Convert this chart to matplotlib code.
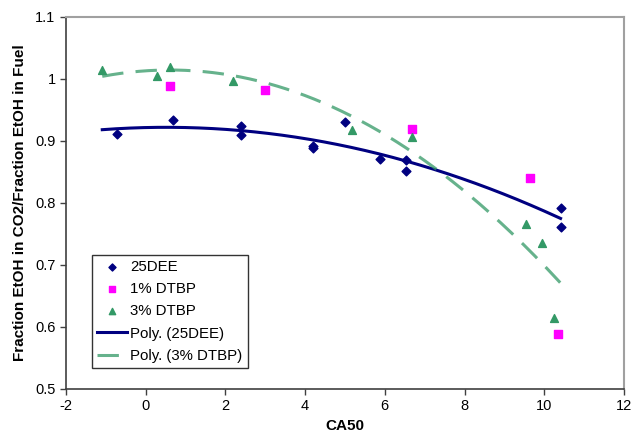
import numpy as np
import matplotlib.pyplot as plt

plt.rcParams['font.family'] = ['Liberation Sans', 'DejaVu Sans']
plt.rcParams['axes.unicode_minus'] = False

# 25DEE
dee_x = [-0.73, 0.68, 2.39, 2.39, 4.2, 4.2, 4.99, 5.88, 6.52, 6.52, 10.41, 10.41]
dee_y = [0.912, 0.934, 0.924, 0.909, 0.892, 0.888, 0.930, 0.871, 0.870, 0.852, 0.792, 0.761]

# 1% DTBP
dtbp1_x = [0.6, 2.99, 6.67, 9.65, 10.35]
dtbp1_y = [0.989, 0.983, 0.920, 0.840, 0.589]

# 3% DTBP
dtbp3_x = [-1.09, 0.29, 0.6, 2.18, 5.17, 6.67, 9.55, 9.95, 10.25]
dtbp3_y = [1.015, 1.004, 1.020, 0.996, 0.917, 0.906, 0.766, 0.736, 0.614]

navy = '#000080'
green = '#339966'

fig = plt.figure(figsize=(6.34, 4.41), dpi=100)
ax = fig.add_axes([0.1041, 0.118, 0.8800, 0.8435])

# 2nd order polynomial trendlines (like Excel "Poly.")
x_lo = min(dee_x + dtbp3_x)
x_hi = max(dee_x + dtbp3_x)
xs = np.linspace(x_lo, x_hi, 200)
c_dee = np.polyfit(dee_x, dee_y, 2)
c_d3 = np.polyfit(dtbp3_x, dtbp3_y, 2)

ax.scatter(dee_x, dee_y, marker='D', s=20, color=navy, label='25DEE', zorder=3)
ax.scatter(dtbp1_x, dtbp1_y, marker='s', s=28, color='#FF00FF', label='1% DTBP', zorder=3)
ax.scatter(dtbp3_x, dtbp3_y, marker='^', s=32, color=green, label='3% DTBP', zorder=3)
ax.plot(xs, np.polyval(c_dee, xs), color=navy, lw=2.2, label='Poly. (25DEE)', zorder=2)
ax.plot(xs, np.polyval(c_d3, xs), color=green, lw=2.2, alpha=0.75,
        dashes=(7, 4), label='Poly. (3% DTBP)', zorder=2)

ax.set_xlim(-2, 12)
ax.set_ylim(0.5, 1.1)
ax.set_xticks(np.arange(-2, 13, 2))
ax.set_yticks(np.arange(0.5, 1.11, 0.1))
ax.set_yticklabels(['0.5', '0.6', '0.7', '0.8', '0.9', '1', '1.1'])
ax.tick_params(labelsize=10.5, direction='out', length=4, width=1, color='#404040')

for side in ['top', 'right']:
    ax.spines[side].set_color('#a0a0a0')
    ax.spines[side].set_linewidth(1.5)
for side in ['left', 'bottom']:
    ax.spines[side].set_color('#404040')
    ax.spines[side].set_linewidth(1.2)

ax.set_xlabel('CA50', fontsize=11, fontweight='bold', labelpad=4)
ax.set_ylabel('Fraction EtOH in CO2/Fraction EtOH in Fuel', fontsize=11,
              fontweight='bold', labelpad=6)

leg = ax.legend(loc='lower left', bbox_to_anchor=(0.047, 0.056), fontsize=10.8,
                frameon=True, fancybox=False, edgecolor='black', handlelength=2.0,
                handletextpad=0.2, borderpad=0.35, labelspacing=0.55, borderaxespad=0,
                markerscale=0.8)
leg.get_frame().set_linewidth(1.0)

fig.savefig('out.png', dpi=100)
